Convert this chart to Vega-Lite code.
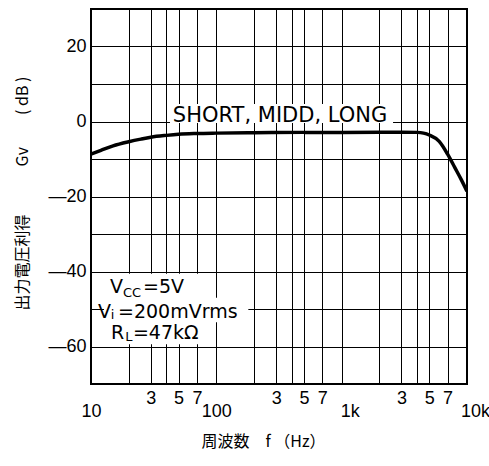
{
  "$schema": "https://vega.github.io/schema/vega-lite/v6.json",
  "width": 376,
  "height": 375,
  "autosize": {"type": "none"},
  "padding": {"left": 91, "top": 9, "right": 22, "bottom": 82},
  "background": "white",
  "config": {
    "view": {"stroke": "black", "strokeWidth": 2},
    "axis": {
      "grid": true, "gridColor": "black", "gridOpacity": 1, "gridWidth": 1,
      "domain": false, "ticks": false,
      "labelFont": "Liberation Sans", "labelFontSize": 18, "labelColor": "black",
      "titleFont": "Noto Sans CJK JP", "titleFontSize": 16, "titleFontWeight": "normal", "titleColor": "black",
      "labelOverlap": false, "labelFlush": false, "labelBound": false, "zindex": 0
    }
  },
  "encoding": {
    "x": {
      "field": "f", "type": "quantitative",
      "scale": {"type": "log", "domain": [10, 10000], "nice": false},
      "axis": {
        "values": [10, 20, 30, 40, 50, 70, 100, 200, 300, 400, 500, 700, 1000, 2000, 3000, 4000, 5000, 7000, 10000],
        "labelExpr": "{'10':'10','30':'3','50':'5','70':'7','100':'100','300':'3','500':'5','700':'7','1000':'1k','3000':'3','5000':'5','7000':'7','10000':'10k'}[''+datum.value] || ''",
        "labelPadding": {"condition": {"test": "datum.value==10||datum.value==100||datum.value==1000||datum.value==10000", "value": 18}, "value": 5},
        "labelOffset": {"condition": {"test": "datum.value==1000||datum.value==10000", "value": 8}, "value": 0},
        "title": "周波数　f （Hz）",
        "titleX": 172, "titleY": 57, "titleBaseline": "middle"
      }
    },
    "y": {
      "field": "g", "type": "quantitative",
      "scale": {"domain": [-70, 30], "nice": false},
      "axis": {
        "values": [-70, -60, -50, -40, -30, -20, -10, 0, 10, 20, 30],
        "labelExpr": "abs(datum.value)%20==10 ? '' : (datum.value<0 ? '—'+abs(datum.value) : ''+datum.value)",
        "labelPadding": 5,
        "title": "出力電圧利得　　　Gv　　( dB )",
        "titleX": -69, "titleY": 184, "titleBaseline": "middle", "titleAngle": -90
      }
    }
  },
  "layer": [
    {
      "data": {"values": [
        {"f": 12.7, "f2": 90, "g": -59.4, "g2": -40.6},
        {"f": 90, "f2": 180, "g": -53.5, "g2": -47},
        {"f": 42.7, "f2": 2570, "g": -0.4, "g2": 4.7}
      ]},
      "mark": {"type": "rect", "color": "white", "opacity": 1},
      "encoding": {"x2": {"field": "f2"}, "y2": {"field": "g2"}}
    },
    {
      "data": {"values": [
        {"f": 45, "g": -0.2, "t": "SHORT, MIDD, LONG"}
      ]},
      "mark": {"type": "text", "align": "left", "baseline": "alphabetic", "font": "DejaVu Sans", "fontSize": 21, "color": "black"},
      "encoding": {"text": {"field": "t"}}
    },
    {
      "data": {"values": [
        {"f": 14.2, "g": -45.6, "t": "V"},
        {"f": 26.0, "g": -45.6, "t": "=5V"},
        {"f": 11.37, "g": -52.3, "t": "V"},
        {"f": 16.43, "g": -52.3, "t": "=200mVrms"},
        {"f": 14.45, "g": -58.1, "t": "R"},
        {"f": 21.6, "g": -58.1, "t": "=47kΩ"}
      ]},
      "mark": {"type": "text", "align": "left", "baseline": "alphabetic", "font": "DejaVu Sans", "fontSize": 19, "color": "black"},
      "encoding": {"text": {"field": "t"}}
    },
    {
      "data": {"values": [
        {"f": 18.0, "g": -46.9, "t": "CC"},
        {"f": 14.4, "g": -52.6, "t": "i"},
        {"f": 18.8, "g": -58.5, "t": "L"}
      ]},
      "mark": {"type": "text", "align": "left", "baseline": "alphabetic", "font": "DejaVu Sans", "fontSize": 13, "color": "black"},
      "encoding": {"text": {"field": "t"}}
    },
    {
      "data": {"values": [
        {"f": 10, "g": -8.7}, {"f": 12, "g": -7.7}, {"f": 15, "g": -6.5}, {"f": 20, "g": -5.4},
        {"f": 25, "g": -4.7}, {"f": 30, "g": -4.2}, {"f": 40, "g": -3.7}, {"f": 50, "g": -3.4},
        {"f": 70, "g": -3.2}, {"f": 100, "g": -3.1}, {"f": 200, "g": -3.0}, {"f": 500, "g": -2.9},
        {"f": 1000, "g": -2.9}, {"f": 2000, "g": -2.85}, {"f": 3000, "g": -2.85}, {"f": 4000, "g": -2.9},
        {"f": 4500, "g": -3.1}, {"f": 5000, "g": -3.6}, {"f": 6000, "g": -5.3}, {"f": 7000, "g": -8.7},
        {"f": 8000, "g": -12.3}, {"f": 9000, "g": -15.5}, {"f": 10000, "g": -18.6}
      ]},
      "mark": {"type": "line", "color": "black", "strokeWidth": 3.5, "interpolate": "monotone", "clip": true}
    }
  ]
}
